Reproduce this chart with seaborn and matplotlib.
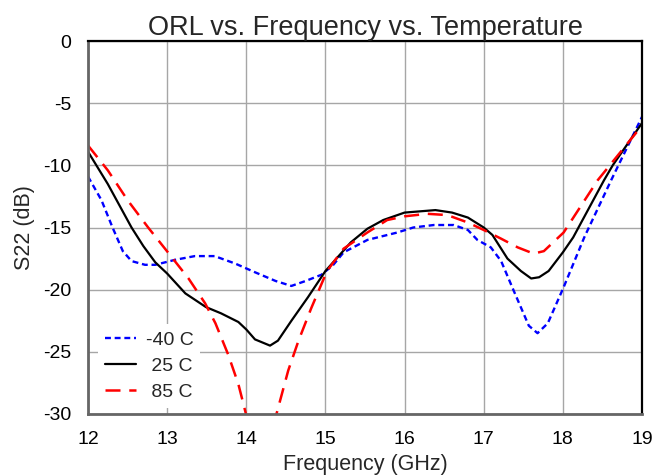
import matplotlib
matplotlib.use("Agg")
import matplotlib.pyplot as plt
import seaborn as sns
import pandas as pd

# -40 C
freq_m40 = [12.0, 12.17, 12.31, 12.44, 12.55, 12.72, 12.85, 13.1, 13.35, 13.6, 13.86, 14.11,
            14.37, 14.57, 14.75, 14.95, 15.1, 15.23, 15.53, 15.91, 16.11, 16.37, 16.62, 16.8,
            16.92, 17.09, 17.22, 17.38, 17.57, 17.68, 17.81, 18.01, 18.27, 18.61, 19.0]
s22_m40 = [-10.9, -12.8, -15.0, -16.9, -17.7, -18.0, -18.0, -17.6, -17.3, -17.3, -17.9, -18.6,
           -19.3, -19.7, -19.3, -18.8, -18.0, -17.0, -16.0, -15.4, -15.0, -14.8, -14.8, -15.2,
           -16.0, -16.6, -17.7, -20.1, -22.9, -23.5, -22.7, -19.8, -15.8, -11.2, -6.1]

# 25 C
freq_25 = [12.0, 12.25, 12.55, 12.70, 12.85, 13.0, 13.23, 13.49, 13.68, 13.9, 14.0, 14.11,
           14.30, 14.40, 14.57, 14.78, 15.0, 15.32, 15.53, 15.73, 16.0, 16.39, 16.6, 16.8,
           17.0, 17.11, 17.30, 17.47, 17.6, 17.7, 17.82, 18.0, 18.13, 18.52, 18.63, 19.0]
s22_25 = [-8.9, -11.5, -15.0, -16.5, -17.8, -18.7, -20.3, -21.4, -21.9, -22.6, -23.2, -24.0,
          -24.5, -24.1, -22.5, -20.6, -18.5, -16.2, -15.1, -14.4, -13.8, -13.6, -13.8, -14.2,
          -15.0, -15.6, -17.5, -18.5, -19.1, -19.0, -18.5, -17.0, -15.8, -11.2, -10.0, -6.6]

# 85 C
freq_85 = [12.0, 12.25, 12.5, 12.76, 13.01, 13.27, 13.48, 13.61, 13.77, 13.9, 14.0, 14.1,
           14.2, 14.3, 14.39, 14.53, 14.66, 14.82, 15.02, 15.23, 15.53, 15.78, 16.0, 16.29,
           16.54, 16.8, 17.0, 17.22, 17.43, 17.63, 17.76, 18.01, 18.44, 19.0]
s22_85 = [-8.4, -10.4, -12.8, -15.0, -17.0, -19.1, -21.1, -22.7, -25.2, -27.6, -30.1, -32.0,
          -32.8, -31.8, -29.8, -26.5, -24.1, -21.5, -18.5, -16.7, -15.4, -14.4, -14.1, -13.9,
          -14.0, -14.6, -15.2, -15.9, -16.6, -17.1, -16.9, -15.4, -11.2, -6.8]

labels = ["-40 C", " 25 C", " 85 C"]
title = "ORL vs. Frequency vs. Temperature"
xlabel = "Frequency (GHz)"
ylabel = "S22 (dB)"
xticks = [12, 13, 14, 15, 16, 17, 18, 19]
yticks = [0, -5, -10, -15, -20, -25, -30]

sns.set_style("white")
plt.rcParams['font.family'] = ['Liberation Sans', 'DejaVu Sans']

fig = plt.figure(figsize=(6.68, 4.76), dpi=100)
ax = fig.add_axes([88 / 668, 1 - 414 / 476, (642 - 88) / 668, (414 - 41) / 476])

series = [
    (freq_m40, s22_m40, labels[0], "#0000ff", (0, (2.5, 1.6)), 1.7),
    (freq_25, s22_25, labels[1], "#000000", "-", 1.6),
    (freq_85, s22_85, labels[2], "#ff0000", (0, (6, 3.5)), 1.8),
]
for fx, fy, lab, col, ls, lw in series:
    df = pd.DataFrame({"f": fx, "s": fy})
    sns.lineplot(data=df, x="f", y="s", ax=ax, color=col, linestyle=ls, linewidth=lw,
                 label=lab, sort=False, estimator=None)

ax.set_xlim(12, 19)
ax.set_ylim(-30, 0)
ax.set_xticks(xticks)
ax.set_yticks(yticks)
ax.set_xticklabels([str(t) for t in xticks])
ax.set_yticklabels([str(t) for t in yticks])
ax.grid(True, color="#a6a6a6", linewidth=1.0)
ax.set_axisbelow(True)
ax.tick_params(axis="both", labelsize=14, length=0, colors="black")
ax.tick_params(axis="x", pad=12)
ax.tick_params(axis="y", pad=12)

for side in ["top", "right"]:
    ax.spines[side].set_color("black")
    ax.spines[side].set_linewidth(1.6)
for side in ["left", "bottom"]:
    ax.spines[side].set_color("#666666")
    ax.spines[side].set_linewidth(2.0)

ax.set_title(title, fontsize=19.5, pad=4)
ax.set_xlabel(xlabel, fontsize=15.5, labelpad=4.5)
ax.set_ylabel(ylabel, fontsize=15.5, labelpad=6)

leg = ax.legend(loc="lower left", bbox_to_anchor=(0.018, 0.016), borderaxespad=0,
                fontsize=14, frameon=True, framealpha=1, facecolor="white",
                edgecolor="none", fancybox=False, handlelength=1.6,
                handletextpad=0.5, labelspacing=0.45, borderpad=0.35)

fig.savefig("out.png", dpi=100)
